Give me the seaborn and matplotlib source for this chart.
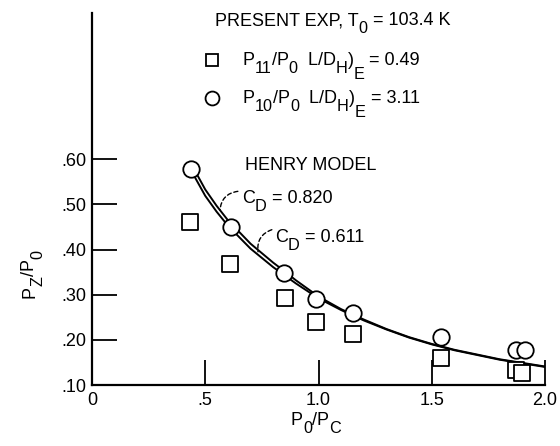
import matplotlib
matplotlib.use("Agg")
import matplotlib.pyplot as plt
from matplotlib.transforms import offset_copy
import seaborn as sns
import pandas as pd

# Data
x_p11 = [0.434, 0.61, 0.85, 0.99, 1.152, 1.54, 1.87, 1.90]
y_p11 = [0.460, 0.367, 0.293, 0.240, 0.213, 0.160, 0.133, 0.127]
x_p10 = [0.438, 0.612, 0.848, 0.989, 1.152, 1.54, 1.87, 1.91]
y_p10 = [0.578, 0.450, 0.349, 0.291, 0.260, 0.207, 0.178, 0.178]

x_model = [0.44, 0.50, 0.55, 0.60, 0.70, 0.80, 0.85, 0.90, 1.00, 1.10, 1.20, 1.30, 1.40, 1.50, 1.60, 1.80, 2.00]
y_cd820 = [0.588, 0.533, 0.497, 0.465, 0.413, 0.371, 0.352, 0.332, 0.296, 0.268, 0.245, 0.224, 0.206, 0.191, 0.178, 0.157, 0.141]
y_cd611 = [0.573, 0.519, 0.484, 0.453, 0.402, 0.361, 0.343, 0.325, 0.292, 0.266, 0.243, 0.223, 0.205, 0.190, 0.177, 0.156, 0.140]

x_ticks = [0, 0.5, 1.0, 1.5, 2.0]
x_ticklabels = ["0", ".5", "1.0", "1.5", "2.0"]
y_ticks = [0.10, 0.20, 0.30, 0.40, 0.50, 0.60]
y_ticklabels = [".10", ".20", ".30", ".40", ".50", ".60"]

sns.set_style("ticks")
plt.rcParams["font.family"] = ["Liberation Sans", "DejaVu Sans"]
plt.rcParams["text.color"] = "black"
plt.rcParams["axes.labelcolor"] = "black"

W, H = 560, 446
fig = plt.figure(figsize=(W / 100, H / 100), dpi=100)
ax = fig.add_axes([92 / W, 61 / H, (545 - 92) / W, (385 - 13) / H])

df_p11 = pd.DataFrame({"x": x_p11, "y": y_p11})
df_p10 = pd.DataFrame({"x": x_p10, "y": y_p10})
df_m = pd.DataFrame({"x": x_model + x_model,
                     "y": y_cd820 + y_cd611,
                     "cd": ["0.820"] * len(x_model) + ["0.611"] * len(x_model)})

sns.lineplot(data=df_m, x="x", y="y", units="cd", estimator=None, color="black",
             linewidth=1.4, ax=ax, legend=False, zorder=2)
sns.scatterplot(data=df_p11, x="x", y="y", marker="s", s=120, facecolor="white",
                edgecolor="black", linewidth=1.3, ax=ax, zorder=3)
sns.scatterplot(data=df_p10, x="x", y="y", marker="o", s=140, facecolor="white",
                edgecolor="black", linewidth=1.3, ax=ax, zorder=4)

ax.set_xlim(0, 2.0)
ax.set_ylim(0.10, 0.924)
ax.set_xticks(x_ticks)
ax.set_xticklabels(x_ticklabels)
ax.set_yticks(y_ticks)
ax.set_yticklabels(y_ticklabels)
ax.tick_params(direction="in", length=18, width=1.3, labelsize=13,
               colors="black", labelcolor="black")
ax.tick_params(axis="x", pad=5)
ax.tick_params(axis="y", pad=4)
for s in ["top", "right"]:
    ax.spines[s].set_visible(False)
for s in ["left", "bottom"]:
    ax.spines[s].set_linewidth(1.6)
    ax.spines[s].set_color("black")
ax.set_xlabel("")
ax.set_ylabel("")

renderer = fig.canvas.get_renderer()


def rich(x_px, y_px, parts, fs=13, rotation=0):
    """Draw text made of normal and subscript pieces; (x_px, y_px) is the
    baseline start in pixels from the top-left corner."""
    pos = 0.0
    for s, lvl in parts:
        size = fs if lvl == 0 else fs * 0.9
        drop = [0.0, 0.45, 0.75][lvl] * fs
        off = (pos, -drop) if rotation == 0 else (drop, pos)
        tr = offset_copy(fig.transFigure, fig=fig, x=off[0], y=off[1], units="points")
        t = fig.text(x_px / W, 1 - y_px / H, s, fontsize=size, ha="left", va="baseline",
                     rotation=rotation, rotation_mode="anchor", transform=tr, color="black")
        ext = t.get_window_extent(renderer)
        pos += (ext.width if rotation == 0 else ext.height) * 72 / fig.dpi


rich(215, 25, [("PRESENT EXP, T", 0), ("0", 1), (" = 103.4 K", 0)])
rich(243, 65, [("P", 0), ("11", 1), ("/P", 0), ("0", 1), ("  L/D", 0), ("H", 1), (")", 0), ("E", 2), (" = 0.49", 0)])
rich(243, 103, [("P", 0), ("10", 1), ("/P", 0), ("0", 1), ("  L/D", 0), ("H", 1), (")", 0), ("E", 2), (" = 3.11", 0)])
rich(245, 170, [("HENRY MODEL", 0)])
rich(242, 203, [("C", 0), ("D", 1), (" = 0.820", 0)])
rich(275, 242, [("C", 0), ("D", 1), (" = 0.611", 0)])
rich(291, 425, [("P", 0), ("0", 1), ("/P", 0), ("C", 1)])
rich(34, 298, [("P", 0), ("Z", 1), ("/P", 0), ("0", 1)], rotation=90)

# legend symbols
ax.plot([(212 - 92) / 453], [(385 - 60) / 372], marker="s", ms=9, mfc="white", mec="black",
        mew=1.3, transform=ax.transAxes, clip_on=False)
ax.plot([(212 - 92) / 453], [(385 - 98) / 372], marker="o", ms=10, mfc="white", mec="black",
        mew=1.3, transform=ax.transAxes, clip_on=False)

# dashed leaders from labels to the model curves
lead = dict(arrowstyle="-", linestyle=(0, (3, 2)), color="black", lw=1,
            connectionstyle="arc3,rad=0.4", shrinkA=0, shrinkB=0)
ax.annotate("", xy=(0.565, 0.487), xytext=(0.644, 0.529), arrowprops=lead)
ax.annotate("", xy=(0.733, 0.395), xytext=(0.794, 0.444), arrowprops=lead)

fig.savefig("out.png", dpi=100)
